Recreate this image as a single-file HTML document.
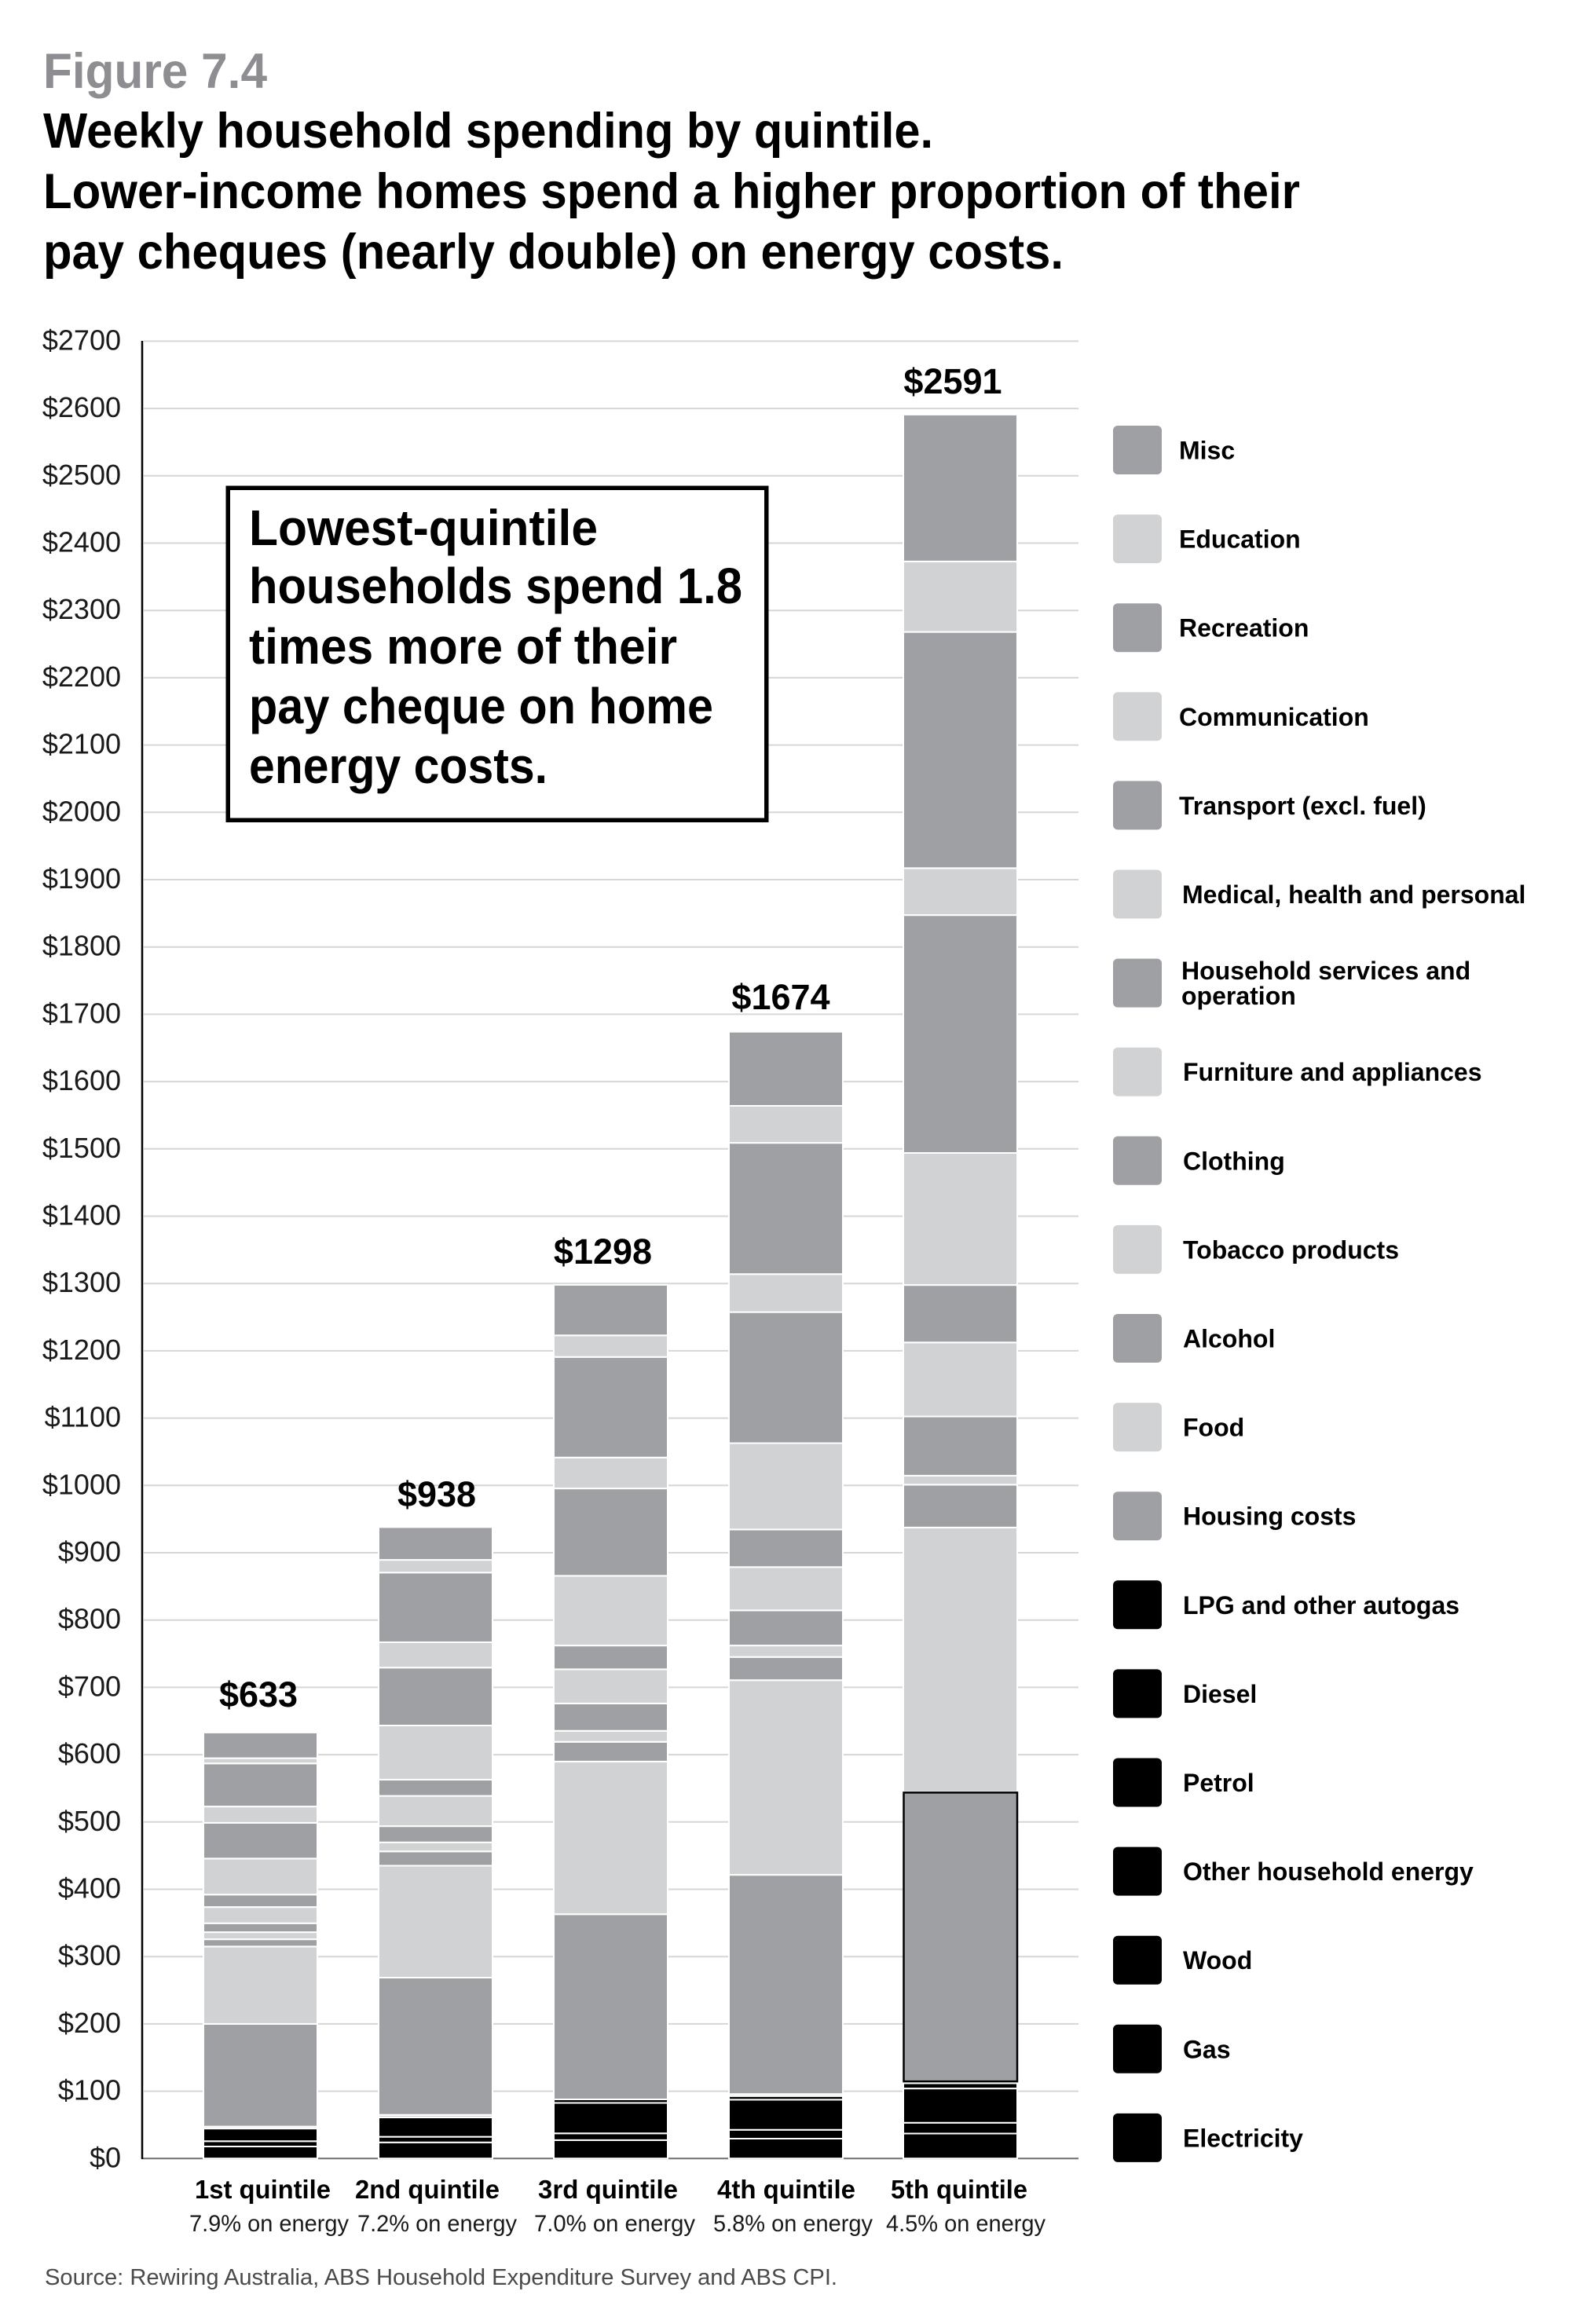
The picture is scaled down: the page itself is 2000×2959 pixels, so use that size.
<!DOCTYPE html>
<html>
<head>
<meta charset="utf-8">
<style>
html,body{margin:0;padding:0;background:#fff;}
svg{display:block;}
.b rect,.g line{vector-effect:non-scaling-stroke;}
.K{fill:#000;}
.D{fill:#9fa0a3;}
.L{fill:#d1d2d4;}
text{font-family:"Liberation Sans",Arial,sans-serif;}
.yl{font-size:36px;fill:#1a1a1a;text-anchor:end;}
.lg{font-size:32px;font-weight:bold;fill:#000;}
.vl{font-size:45px;font-weight:bold;fill:#000;text-anchor:middle;}
.ql{font-size:33px;font-weight:bold;fill:#000;}
.qs{font-size:30px;fill:#1a1a1a;}
</style>
</head>
<body>
<svg width="2000" height="2959" viewBox="0 0 2000 2959" xmlns="http://www.w3.org/2000/svg">
<rect x="0" y="0" width="2000" height="2959" fill="#fff"/>

<!-- Titles -->
<text x="55" y="112" font-size="63" font-weight="bold" fill="#8e8e92" textLength="285" lengthAdjust="spacingAndGlyphs">Figure 7.4</text>
<text x="55" y="188" font-size="63" font-weight="bold" fill="#000" textLength="1133" lengthAdjust="spacingAndGlyphs">Weekly household spending by quintile.</text>
<text x="55" y="265" font-size="63" font-weight="bold" fill="#000" textLength="1600" lengthAdjust="spacingAndGlyphs">Lower-income homes spend a higher proportion of their</text>
<text x="55" y="342" font-size="63" font-weight="bold" fill="#000" textLength="1299" lengthAdjust="spacingAndGlyphs">pay cheques (nearly double) on energy costs.</text>

<!-- Gridlines -->
<g class="g" transform="matrix(1 0 0 -0.857 0 2748.3)" stroke="#d6d6d6" stroke-width="2">
<line x1="183" x2="1373" y1="100" y2="100"/>
<line x1="183" x2="1373" y1="200" y2="200"/>
<line x1="183" x2="1373" y1="300" y2="300"/>
<line x1="183" x2="1373" y1="400" y2="400"/>
<line x1="183" x2="1373" y1="500" y2="500"/>
<line x1="183" x2="1373" y1="600" y2="600"/>
<line x1="183" x2="1373" y1="700" y2="700"/>
<line x1="183" x2="1373" y1="800" y2="800"/>
<line x1="183" x2="1373" y1="900" y2="900"/>
<line x1="183" x2="1373" y1="1000" y2="1000"/>
<line x1="183" x2="1373" y1="1100" y2="1100"/>
<line x1="183" x2="1373" y1="1200" y2="1200"/>
<line x1="183" x2="1373" y1="1300" y2="1300"/>
<line x1="183" x2="1373" y1="1400" y2="1400"/>
<line x1="183" x2="1373" y1="1500" y2="1500"/>
<line x1="183" x2="1373" y1="1600" y2="1600"/>
<line x1="183" x2="1373" y1="1700" y2="1700"/>
<line x1="183" x2="1373" y1="1800" y2="1800"/>
<line x1="183" x2="1373" y1="1900" y2="1900"/>
<line x1="183" x2="1373" y1="2000" y2="2000"/>
<line x1="183" x2="1373" y1="2100" y2="2100"/>
<line x1="183" x2="1373" y1="2200" y2="2200"/>
<line x1="183" x2="1373" y1="2300" y2="2300"/>
<line x1="183" x2="1373" y1="2400" y2="2400"/>
<line x1="183" x2="1373" y1="2500" y2="2500"/>
<line x1="183" x2="1373" y1="2600" y2="2600"/>
<line x1="183" x2="1373" y1="2700" y2="2700"/>
<line x1="181" x2="1373" y1="0" y2="0" stroke="#6e6e6e"/>
</g>

<!-- Y axis line -->
<line x1="181" y1="434" x2="181" y2="2749" stroke="#000" stroke-width="2.5"/>

<!-- Y labels -->
<text class="yl" x="154" y="2759.3">$0</text>
<text class="yl" x="154" y="2673.6">$100</text>
<text class="yl" x="154" y="2587.9">$200</text>
<text class="yl" x="154" y="2502.2">$300</text>
<text class="yl" x="154" y="2416.5">$400</text>
<text class="yl" x="154" y="2330.8">$500</text>
<text class="yl" x="154" y="2245.1">$600</text>
<text class="yl" x="154" y="2159.4">$700</text>
<text class="yl" x="154" y="2073.7">$800</text>
<text class="yl" x="154" y="1988.0">$900</text>
<text class="yl" x="154" y="1902.3">$1000</text>
<text class="yl" x="154" y="1816.6">$1100</text>
<text class="yl" x="154" y="1730.9">$1200</text>
<text class="yl" x="154" y="1645.2">$1300</text>
<text class="yl" x="154" y="1559.5">$1400</text>
<text class="yl" x="154" y="1473.8">$1500</text>
<text class="yl" x="154" y="1388.1">$1600</text>
<text class="yl" x="154" y="1302.4">$1700</text>
<text class="yl" x="154" y="1216.7">$1800</text>
<text class="yl" x="154" y="1131.0">$1900</text>
<text class="yl" x="154" y="1045.3">$2000</text>
<text class="yl" x="154" y="959.6">$2100</text>
<text class="yl" x="154" y="873.9">$2200</text>
<text class="yl" x="154" y="788.2">$2300</text>
<text class="yl" x="154" y="702.5">$2400</text>
<text class="yl" x="154" y="616.8">$2500</text>
<text class="yl" x="154" y="531.1">$2600</text>
<text class="yl" x="154" y="445.4">$2700</text>

<!-- Bars -->
<g class="b" transform="matrix(1 0 0 -0.857 0 2748.3)" stroke="#fff" stroke-width="2">
<!-- Bar 1 -->
<rect class="K" x="259" width="145" y="0" height="17.9"/>
<rect class="K" x="259" width="145" y="17.9" height="7.8"/>
<rect class="K" x="259" width="145" y="25.7" height="18.8"/>
<rect class="L" x="259" width="145" y="44.5" height="3"/>
<rect class="D" x="259" width="145" y="47.5" height="152.5"/>
<rect class="L" x="259" width="145" y="200" height="115"/>
<rect class="D" x="259" width="145" y="315" height="10.7"/>
<rect class="L" x="259" width="145" y="325.7" height="10.6"/>
<rect class="D" x="259" width="145" y="336.3" height="13.2"/>
<rect class="L" x="259" width="145" y="349.5" height="24.1"/>
<rect class="D" x="259" width="145" y="373.6" height="18.5"/>
<rect class="L" x="259" width="145" y="392.1" height="53.6"/>
<rect class="D" x="259" width="145" y="445.7" height="53"/>
<rect class="L" x="259" width="145" y="498.7" height="24.2"/>
<rect class="D" x="259" width="145" y="522.9" height="64.1"/>
<rect class="L" x="259" width="145" y="587" height="7.7"/>
<rect class="D" x="259" width="145" y="594.7" height="38.3"/>
<!-- Bar 2 -->
<rect class="K" x="482" width="145" y="0" height="24"/>
<rect class="K" x="482" width="145" y="24" height="8.3"/>
<rect class="K" x="482" width="145" y="32.3" height="28.7"/>
<rect class="L" x="482" width="145" y="61" height="3.8"/>
<rect class="D" x="482" width="145" y="64.8" height="204"/>
<rect class="L" x="482" width="145" y="268.8" height="166.2"/>
<rect class="D" x="482" width="145" y="435" height="21.3"/>
<rect class="L" x="482" width="145" y="456.3" height="13.4"/>
<rect class="D" x="482" width="145" y="469.7" height="24.1"/>
<rect class="L" x="482" width="145" y="493.8" height="44.9"/>
<rect class="D" x="482" width="145" y="538.7" height="24.2"/>
<rect class="L" x="482" width="145" y="562.9" height="80.4"/>
<rect class="D" x="482" width="145" y="643.3" height="86"/>
<rect class="L" x="482" width="145" y="729.3" height="37.7"/>
<rect class="D" x="482" width="145" y="767" height="103.5"/>
<rect class="L" x="482" width="145" y="870.5" height="18.9"/>
<rect class="D" x="482" width="145" y="889.4" height="48.6"/>
<!-- Bar 3 -->
<rect class="K" x="705" width="145" y="0" height="27.3"/>
<rect class="K" x="705" width="145" y="27.3" height="10.1"/>
<rect class="K" x="705" width="145" y="37.4" height="45.2"/>
<rect class="K" x="705" width="145" y="82.6" height="5.3"/>
<rect class="D" x="705" width="145" y="87.9" height="275"/>
<rect class="L" x="705" width="145" y="362.9" height="226.8"/>
<rect class="D" x="705" width="145" y="589.7" height="29.4"/>
<rect class="L" x="705" width="145" y="619.1" height="16.3"/>
<rect class="D" x="705" width="145" y="635.4" height="40.7"/>
<rect class="L" x="705" width="145" y="676.1" height="50.7"/>
<rect class="D" x="705" width="145" y="726.8" height="35.3"/>
<rect class="L" x="705" width="145" y="762.1" height="103.6"/>
<rect class="D" x="705" width="145" y="865.7" height="129.8"/>
<rect class="L" x="705" width="145" y="995.5" height="46"/>
<rect class="D" x="705" width="145" y="1041.5" height="149.3"/>
<rect class="L" x="705" width="145" y="1190.8" height="32.2"/>
<rect class="D" x="705" width="145" y="1223" height="75"/>
<!-- Bar 4 -->
<rect class="K" x="928" width="145" y="0" height="29.5"/>
<rect class="K" x="928" width="145" y="29.5" height="13.1"/>
<rect class="K" x="928" width="145" y="42.6" height="44.9"/>
<rect class="K" x="928" width="145" y="87.5" height="5.3"/>
<rect class="L" x="928" width="145" y="92.8" height="3"/>
<rect class="D" x="928" width="145" y="95.8" height="325.7"/>
<rect class="L" x="928" width="145" y="421.5" height="289.2"/>
<rect class="D" x="928" width="145" y="710.7" height="34.4"/>
<rect class="L" x="928" width="145" y="745.1" height="17"/>
<rect class="D" x="928" width="145" y="762.1" height="52.3"/>
<rect class="L" x="928" width="145" y="814.4" height="64.3"/>
<rect class="D" x="928" width="145" y="878.7" height="55.9"/>
<rect class="L" x="928" width="145" y="934.6" height="128.2"/>
<rect class="D" x="928" width="145" y="1062.8" height="194.7"/>
<rect class="L" x="928" width="145" y="1257.5" height="56.4"/>
<rect class="D" x="928" width="145" y="1313.9" height="195.1"/>
<rect class="L" x="928" width="145" y="1509" height="55"/>
<rect class="D" x="928" width="145" y="1564" height="110"/>
<!-- Bar 5 -->
<rect class="K" x="1150" width="145" y="0" height="37.1"/>
<rect class="K" x="1150" width="145" y="37.1" height="16.1"/>
<rect class="K" x="1150" width="145" y="53.2" height="50.8"/>
<rect class="K" x="1150" width="145" y="104" height="7.8"/>
<rect class="D" x="1150" width="145" y="112.6" height="432"/>
<rect class="L" x="1150" width="145" y="544.6" height="392.9"/>
<rect class="D" x="1150" width="145" y="937.5" height="63.6"/>
<rect class="L" x="1150" width="145" y="1001.1" height="13.4"/>
<rect class="D" x="1150" width="145" y="1014.5" height="88"/>
<rect class="L" x="1150" width="145" y="1102.5" height="110"/>
<rect class="D" x="1150" width="145" y="1212.5" height="85.2"/>
<rect class="L" x="1150" width="145" y="1297.7" height="196.3"/>
<rect class="D" x="1150" width="145" y="1494" height="353.3"/>
<rect class="L" x="1150" width="145" y="1847.3" height="69.7"/>
<rect class="D" x="1150" width="145" y="1917" height="351"/>
<rect class="L" x="1150" width="145" y="2268" height="104.7"/>
<rect class="D" x="1150" width="145" y="2372.7" height="218.3"/>
<rect x="1150.5" width="144.5" y="114.5" height="429.2" fill="none" stroke="#000" stroke-width="2.5"/>
</g>

<!-- Value labels -->
<text class="vl" x="329" y="2173">$633</text>
<text class="vl" x="556" y="1918">$938</text>
<text class="vl" x="767.5" y="1609">$1298</text>
<text class="vl" x="994" y="1285">$1674</text>
<text class="vl" x="1213" y="501">$2591</text>

<!-- Annotation box -->
<rect x="290.25" y="621.25" width="685.5" height="423" fill="#fff" stroke="#000" stroke-width="5.5"/>
<text x="317" y="694" font-size="64" font-weight="bold" fill="#000" textLength="444" lengthAdjust="spacingAndGlyphs">Lowest-quintile</text>
<text x="317" y="768" font-size="64" font-weight="bold" fill="#000" textLength="628" lengthAdjust="spacingAndGlyphs">households spend 1.8</text>
<text x="317" y="845" font-size="64" font-weight="bold" fill="#000" textLength="545" lengthAdjust="spacingAndGlyphs">times more of their</text>
<text x="317" y="921" font-size="64" font-weight="bold" fill="#000" textLength="591" lengthAdjust="spacingAndGlyphs">pay cheque on home</text>
<text x="317" y="997" font-size="64" font-weight="bold" fill="#000" textLength="380" lengthAdjust="spacingAndGlyphs">energy costs.</text>

<!-- Category labels -->
<text class="ql" x="248" y="2799" textLength="173" lengthAdjust="spacingAndGlyphs">1st quintile</text>
<text class="ql" x="452" y="2799" textLength="184" lengthAdjust="spacingAndGlyphs">2nd quintile</text>
<text class="ql" x="685" y="2799" textLength="178" lengthAdjust="spacingAndGlyphs">3rd quintile</text>
<text class="ql" x="913" y="2799" textLength="176" lengthAdjust="spacingAndGlyphs">4th quintile</text>
<text class="ql" x="1134" y="2799" textLength="174" lengthAdjust="spacingAndGlyphs">5th quintile</text>
<text class="qs" x="241" y="2841" textLength="203" lengthAdjust="spacingAndGlyphs">7.9% on energy</text>
<text class="qs" x="455" y="2841" textLength="203" lengthAdjust="spacingAndGlyphs">7.2% on energy</text>
<text class="qs" x="680" y="2841" textLength="205" lengthAdjust="spacingAndGlyphs">7.0% on energy</text>
<text class="qs" x="908" y="2841" textLength="203" lengthAdjust="spacingAndGlyphs">5.8% on energy</text>
<text class="qs" x="1128" y="2841" textLength="203" lengthAdjust="spacingAndGlyphs">4.5% on energy</text>

<!-- Source -->
<text x="57" y="2909" font-size="29" fill="#4a4a4a" textLength="1009" lengthAdjust="spacingAndGlyphs">Source: Rewiring Australia, ABS Household Expenditure Survey and ABS CPI.</text>

<!-- Legend -->
<g>
<rect class="D" x="1417" y="542" width="62" height="62" rx="6"/>
<rect class="L" x="1417" y="655.1" width="62" height="62" rx="6"/>
<rect class="D" x="1417" y="768.2" width="62" height="62" rx="6"/>
<rect class="L" x="1417" y="881.3" width="62" height="62" rx="6"/>
<rect class="D" x="1417" y="994.4" width="62" height="62" rx="6"/>
<rect class="L" x="1417" y="1107.5" width="62" height="62" rx="6"/>
<rect class="D" x="1417" y="1220.6" width="62" height="62" rx="6"/>
<rect class="L" x="1417" y="1333.7" width="62" height="62" rx="6"/>
<rect class="D" x="1417" y="1446.8" width="62" height="62" rx="6"/>
<rect class="L" x="1417" y="1559.9" width="62" height="62" rx="6"/>
<rect class="D" x="1417" y="1673" width="62" height="62" rx="6"/>
<rect class="L" x="1417" y="1786.1" width="62" height="62" rx="6"/>
<rect class="D" x="1417" y="1899.2" width="62" height="62" rx="6"/>
<rect class="K" x="1417" y="2012.3" width="62" height="62" rx="6"/>
<rect class="K" x="1417" y="2125.4" width="62" height="62" rx="6"/>
<rect class="K" x="1417" y="2238.5" width="62" height="62" rx="6"/>
<rect class="K" x="1417" y="2351.6" width="62" height="62" rx="6"/>
<rect class="K" x="1417" y="2464.7" width="62" height="62" rx="6"/>
<rect class="K" x="1417" y="2577.8" width="62" height="62" rx="6"/>
<rect class="K" x="1417" y="2690.9" width="62" height="62" rx="6"/>
</g>
<text class="lg" x="1501" y="584.5">Misc</text>
<text class="lg" x="1501" y="697.6">Education</text>
<text class="lg" x="1501" y="810.7">Recreation</text>
<text class="lg" x="1501" y="923.8">Communication</text>
<text class="lg" x="1501" y="1036.9">Transport (excl. fuel)</text>
<text class="lg" x="1505" y="1150">Medical, health and personal</text>
<text class="lg" x="1504" y="1247">Household services and</text>
<text class="lg" x="1504" y="1279">operation</text>
<text class="lg" x="1506" y="1376.2">Furniture and appliances</text>
<text class="lg" x="1506" y="1489.3">Clothing</text>
<text class="lg" x="1506" y="1602.4">Tobacco products</text>
<text class="lg" x="1506" y="1715.5">Alcohol</text>
<text class="lg" x="1506" y="1828.6">Food</text>
<text class="lg" x="1506" y="1941.7">Housing costs</text>
<text class="lg" x="1506" y="2054.8">LPG and other autogas</text>
<text class="lg" x="1506" y="2167.9">Diesel</text>
<text class="lg" x="1506" y="2281">Petrol</text>
<text class="lg" x="1506" y="2394.1">Other household energy</text>
<text class="lg" x="1506" y="2507.2">Wood</text>
<text class="lg" x="1506" y="2620.3">Gas</text>
<text class="lg" x="1506" y="2733.4">Electricity</text>
</svg>
</body>
</html>
